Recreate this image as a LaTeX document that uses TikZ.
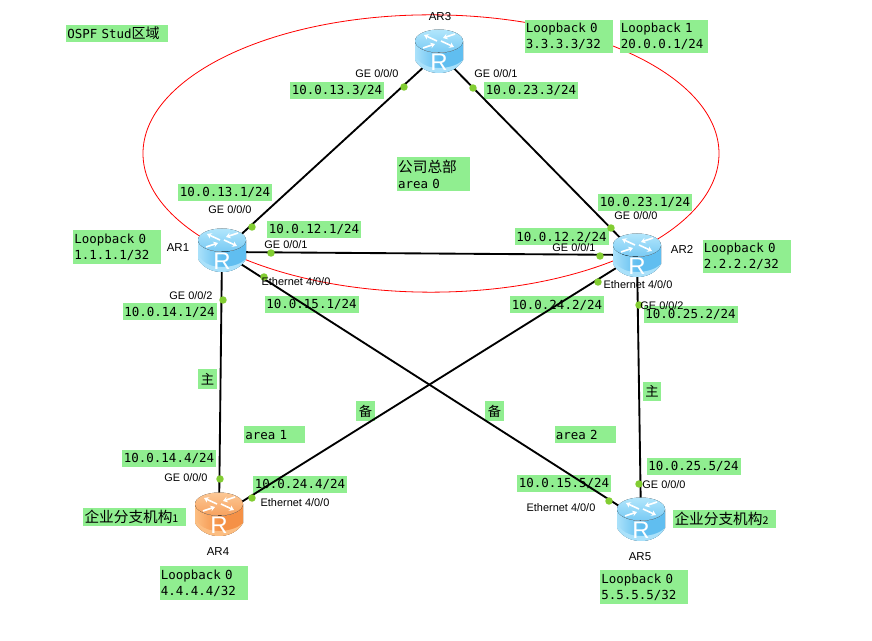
\documentclass[tikz,border=0pt]{standalone}
\usepackage{xcolor}
\usepackage{fontspec}
\setmainfont{Liberation Sans}
\setmonofont{DejaVu Sans Mono}
\newfontfamily\cjk{Noto Sans CJK SC}
\usepackage{tikz}
\usetikzlibrary{arrows.meta,positioning,calc,shapes.geometric}
\definecolor{labelgreen}{RGB}{144,238,144}
\definecolor{portgreen}{RGB}{130,205,50}
\definecolor{bluetop}{RGB}{178,230,252}
\definecolor{blueside}{RGB}{96,190,240}
\definecolor{bluelight}{RGB}{170,225,250}
\definecolor{orangetop}{RGB}{252,200,150}
\definecolor{orangeside}{RGB}{245,145,70}
\definecolor{orangelight}{RGB}{252,190,130}

\begin{document}
\begin{tikzpicture}[
    x=0.75pt, y=-0.75pt,
    addr/.style={rectangle, fill=labelgreen, inner sep=0pt, minimum width=70.5pt, minimum height=12.75pt,
                 font=\fontsize{9.35}{12}\selectfont\ttfamily},
    note/.style={addr, align=left, inner xsep=1pt, minimum width=0pt},
    loopbk/.style={note, text width=64pt, minimum height=25pt},
    tag/.style={addr, minimum width=14pt, minimum height=14.5pt, font=\fontsize{10}{12}\selectfont\cjk},
    area/.style={note, text width=43.75pt},
    branch/.style={note, text width=75pt, minimum height=13.5pt, font=\fontsize{11}{12}\selectfont\cjk},
    port/.style={inner sep=0pt, font=\fontsize{8.2}{10}\selectfont},
    devname/.style={port, font=\fontsize{8.6}{10}\selectfont},
    portdot/.style={circle, fill=portgreen, inner sep=0pt, minimum size=5.6pt},
    link/.style={line width=1.4pt, black},
    spoke/.style={white, line width=1.2pt, -{Stealth[length=3.4pt,width=4.4pt]}},
    pics/routericon/.style n args={3}{code={
        \fill[left color=#3, right color=#2, middle color=#2]
            (-24,-10) arc[start angle=180, end angle=0, x radius=24, y radius=12]
            -- (24,9) .. controls (18,19) and (8,22) .. (0,22) .. controls (-8,22) and (-18,19) .. (-24,9) -- cycle;
        \fill[#3] (-24,-10) -- (-24,9) .. controls (-18,19) and (-8,22) .. (0,22) .. controls (8,22) and (18,19) .. (24,9)
            .. controls (18,15) and (8,17) .. (0,17) .. controls (-8,17) and (-18,15) .. (-24,5) -- cycle;
        \fill[top color=#1, bottom color=#2!70!#1] (0,-10) ellipse (24 and 11.5);
        \draw[spoke] (-2,-10) -- (-15,-16);
        \draw[spoke] (2,-10) -- (15,-4);
        \draw[spoke] (-16,-3) -- (-4,-7);
        \draw[spoke] (16,-17) -- (4,-13);
        \node[text=white, inner sep=0pt, font=\fontsize{18}{18}\selectfont] (-glyph) at (0,11) {R};
    }}
]
\path[use as bounding box, fill=white] (0,0) rectangle (872,641);

% company area
\node[draw=red, line width=0.6pt, ellipse, inner sep=0pt, minimum width=432pt, minimum height=208pt] (hq) at (431,153.5) {};

% routers
\coordinate (ar1) at (222,252);
\coordinate (ar2) at (637,255);
\coordinate (ar3) at (439,53);
\coordinate (ar4) at (219,516);
\coordinate (ar5) at (641,520);

% loopbacks and notes
\node[note, text width=74.5pt] (title) at (117,33.5) {OSPF Stud{\fontsize{10.5}{12}\selectfont\cjk 区域}};
\node[loopbk] (lo3a) at (568.5,36.5) {Loopback 0\\3.3.3.3/32};
\node[loopbk] (lo3b) at (663.5,36.5) {Loopback 1\\20.0.0.1/24};
\node[loopbk] (lo1) at (117,247) {Loopback 0\\1.1.1.1/32};
\node[loopbk] (lo2) at (746.5,256.5) {Loopback 0\\2.2.2.2/32};
\node[loopbk] (lo4) at (203.5,583) {Loopback 0\\4.4.4.4/32};
\node[loopbk] (lo5) at (644,587) {Loopback 0\\5.5.5.5/32};
\node[loopbk, text width=53pt] (hqname) at (433.5,174) {{\fontsize{11}{12}\selectfont\cjk 公司总部}\\area 0};
\node[area] (area1) at (274.5,435) {area 1};
\node[area] (area2) at (585,435) {area 2};
\node[branch] (site1) at (134.5,517) {企业分支机构{\fontsize{8}{10}\selectfont 1}};
\node[branch] (site2) at (724.5,519) {企业分支机构{\fontsize{8}{10}\selectfont 2}};
\node[tag] (main1) at (207.5,379) {主};
\node[tag] (spare1) at (365.5,411) {备};
\node[tag] (spare2) at (494.5,411) {备};
\node[tag] (main2) at (652,391.5) {主};

% interface addresses
\node[addr] (ip13c) at (337,90.5) {10.0.13.3/24};
\node[addr] (ip23c) at (531,90.5) {10.0.23.3/24};
\node[addr] (ip13a) at (225,192.5) {10.0.13.1/24};
\node[addr] (ip12a) at (314,229.5) {10.0.12.1/24};
\node[addr] (ip23b) at (645,202.5) {10.0.23.1/24};
\node[addr] (ip12b) at (561.5,237) {10.0.12.2/24};
\node[addr] (ip15a) at (311.5,304.5) {10.0.15.1/24};
\node[addr] (ip14a) at (169.5,312) {10.0.14.1/24};
\node[addr] (ip24b) at (557,305) {10.0.24.2/24};
\node[addr] (ip25b) at (690.5,314.5) {10.0.25.2/24};
\node[addr] (ip14d) at (169,458.5) {10.0.14.4/24};
\node[addr] (ip24d) at (300,484.5) {10.0.24.4/24};
\node[addr] (ip25e) at (693.5,466.5) {10.0.25.5/24};
\node[addr] (ip15e) at (564,483.5) {10.0.15.5/24};

% links
\draw[link] (ar1) -- (ar3);
\draw[link] (ar3) -- (ar2);
\draw[link] (ar1) -- (ar2);
\draw[link] (ar1) -- (ar4);
\draw[link] (ar1) -- (ar5);
\draw[link] (ar2) -- (ar4);
\draw[link] (ar2) -- (ar5);

% port dots
\node[portdot] (p3a) at (404,87) {};
\node[portdot] (p3b) at (473,88) {};
\node[portdot] (p1a) at (252,227) {};
\node[portdot] (p1b) at (271,253) {};
\node[portdot] (p1c) at (223,300) {};
\node[portdot] (p1d) at (264,277) {};
\node[portdot] (p2a) at (611,228) {};
\node[portdot] (p2b) at (600,256) {};
\node[portdot] (p2c) at (598,282) {};
\node[portdot] (p2d) at (639,305) {};
\node[portdot] (p4a) at (220,479) {};
\node[portdot] (p4b) at (252,498) {};
\node[portdot] (p5a) at (639,484) {};
\node[portdot] (p5b) at (609,501) {};

% router icons
\pic (iconar1) at (222,250) {routericon={bluetop}{blueside}{bluelight}};
\pic (iconar2) at (637,255) {routericon={bluetop}{blueside}{bluelight}};
\pic (iconar3) at (439,51) {routericon={bluetop}{blueside}{bluelight}};
\pic (iconar4) at (219,514) {routericon={orangetop}{orangeside}{orangelight}};
\pic (iconar5) at (641,519) {routericon={bluetop}{blueside}{bluelight}};

% names and ports
\node[devname] (nar1) at (178,248) {AR1};
\node[devname] (nar2) at (682,250) {AR2};
\node[devname] (nar3) at (440,17) {AR3};
\node[devname] (nar4) at (218,552) {AR4};
\node[devname] (nar5) at (640,557) {AR5};
\node[port] (g3a) at (377,74) {GE 0/0/0};
\node[port] (g3b) at (496,74) {GE 0/0/1};
\node[port] (g1a) at (230,210) {GE 0/0/0};
\node[port] (g1b) at (286,245) {GE 0/0/1};
\node[port] (g1c) at (191,296) {GE 0/0/2};
\node[port] (e1) at (296,282) {Ethernet 4/0/0};
\node[port] (g2a) at (636,216) {GE 0/0/0};
\node[port] (g2b) at (574,248) {GE 0/0/1};
\node[port] (e2) at (638,285) {Ethernet 4/0/0};
\node[port] (g2c) at (662,306) {GE 0/0/2};
\node[port] (g4a) at (186,478) {GE 0/0/0};
\node[port] (e4) at (295,503) {Ethernet 4/0/0};
\node[port] (g5a) at (664,485) {GE 0/0/0};
\node[port] (e5) at (561,508) {Ethernet 4/0/0};
\end{tikzpicture}
\end{document}
